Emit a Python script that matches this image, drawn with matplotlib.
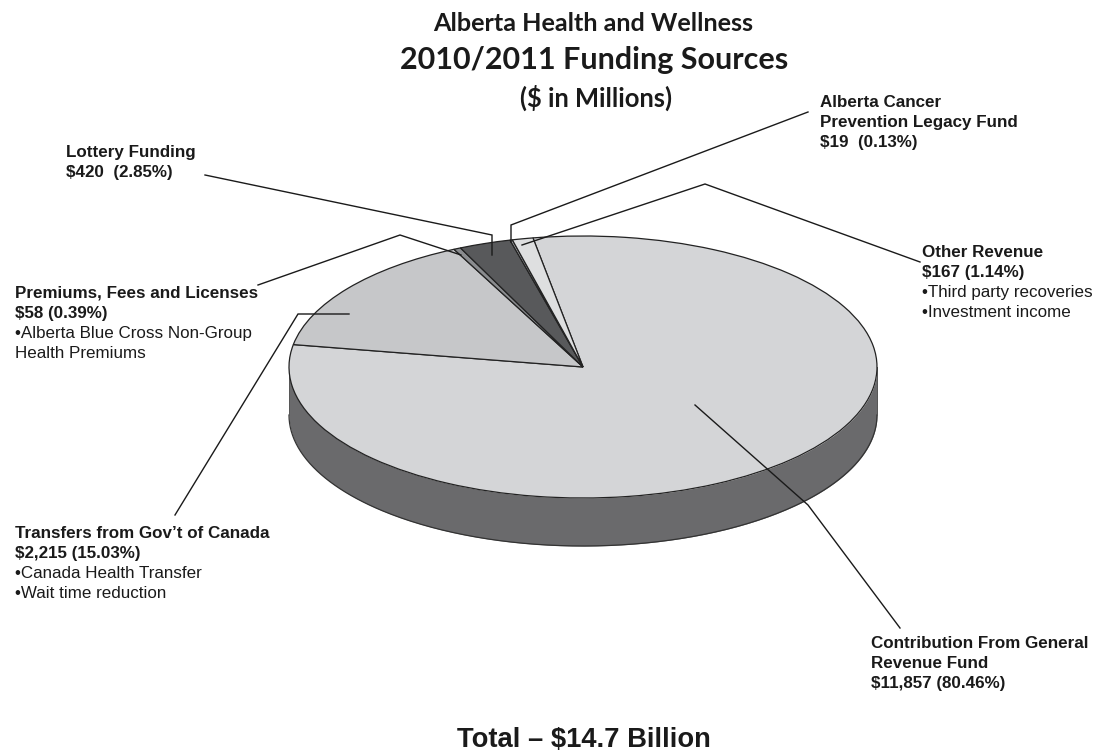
import numpy as np
import matplotlib
matplotlib.use("Agg")
import matplotlib.pyplot as plt

W, H = 1099, 751

# Funding sources, $ millions (clockwise from the general revenue slice)
sources = ["Contribution From General Revenue Fund", "Transfers from Gov't of Canada",
           "Premiums, Fees and Licenses", "Lottery Funding",
           "Alberta Cancer Prevention Legacy Fund", "Other Revenue"]
shares = [80.46, 15.03, 0.39, 2.85, 0.13, 1.14]
slice_colors = ["#d4d5d7", "#c6c7c9", "#8a8c8f", "#58595b", "#a9abae", "#dedfe0"]
start_angle = 99.8

titles = ["Alberta Health and Wellness", "2010/2011 Funding Sources", "($ in Millions)"]
total_label = "Total \u2013 $14.7 Billion"

# (text, bold) per line for each callout block; y is the first baseline
callouts = [
    (820, 107, [("Alberta Cancer", True), ("Prevention Legacy Fund", True), ("$19  (0.13%)", True)]),
    (66, 157, [("Lottery Funding", True), ("$420  (2.85%)", True)]),
    (922, 257, [("Other Revenue", True), ("$167 (1.14%)", True),
                ("\u2022Third party recoveries", False), ("\u2022Investment income", False)]),
    (15, 298, [("Premiums, Fees and Licenses", True), ("$58 (0.39%)", True),
               ("\u2022Alberta Blue Cross Non-Group", False), ("Health Premiums", False)]),
    (15, 538, [("Transfers from Gov\u2019t of Canada", True), ("$2,215 (15.03%)", True),
               ("\u2022Canada Health Transfer", False), ("\u2022Wait time reduction", False)]),
    (871, 648, [("Contribution From General", True), ("Revenue Fund", True), ("$11,857 (80.46%)", True)]),
]

leaders = [
    ([205, 492, 492], [175, 235, 255]),
    ([808, 511, 511], [112, 225, 242]),
    ([920, 705, 522], [262, 184, 245]),
    ([258, 400, 461], [285, 235, 255]),
    ([175, 298, 349], [515, 314, 314]),
    ([900, 808, 695], [628, 505, 405]),
]

fig = plt.figure(figsize=(W / 100, H / 100), dpi=100, facecolor="white")

# Pie axes: unit circle squashed into an ellipse to give the tilted disc
cx, cy, rx, ry, depth = 583, 367, 294, 131, 48
pie_ax = fig.add_axes([0, 0, 1, 1])
pie_ax.pie(shares, colors=slice_colors, startangle=start_angle, counterclock=False, radius=1,
           wedgeprops={"edgecolor": "#222222", "linewidth": 0.9, "zorder": 3})
pie_ax.set_aspect("auto")
pie_ax.set_xlim(-cx / rx, (W - cx) / rx)
pie_ax.set_ylim(-(H - cy) / ry, cy / ry)
pie_ax.axis("off")

# Rim below the visible half of the disc
t = np.linspace(np.pi, 2 * np.pi, 300)
xs, ys = np.cos(t), np.sin(t)
d = depth / ry
pie_ax.fill_between(xs, ys - d, ys, color="#6a6a6c", zorder=1, linewidth=0)
pie_ax.plot(xs, ys - d, color="#333333", lw=0.9, zorder=2)
pie_ax.plot([-1, -1], [0, -d], color="#555555", lw=0.7, zorder=2)
pie_ax.plot([1, 1], [0, -d], color="#555555", lw=0.7, zorder=2)

# Overlay in pixel coordinates for leader lines and text
ov = fig.add_axes([0, 0, 1, 1])
ov.set_xlim(0, W)
ov.set_ylim(H, 0)
ov.axis("off")
ov.patch.set_alpha(0)

for lx, ly in leaders:
    ov.plot(lx, ly, color="#1a1a1a", lw=1.0, solid_joinstyle="miter", zorder=5)

title_x = [593, 594, 596]
title_y = [31, 69, 107]
title_size = [18.2, 22, 18.4]
for text, x, y, size in zip(titles, title_x, title_y, title_size):
    ov.text(x, y, text, ha="center", va="baseline", family="Lato",
            weight="bold", fontsize=size, color="#1a1a1a")

for x, y, lines in callouts:
    for i, (text, bold) in enumerate(lines):
        ov.text(x, y + i * 20, text, ha="left", va="baseline", family="Liberation Sans",
                weight="bold" if bold else "normal", fontsize=12.25, color="#1a1a1a")

ov.text(583.5, 747, total_label, ha="center", va="baseline", family="Liberation Sans",
        weight="bold", fontsize=19.7, color="#1a1a1a")

fig.savefig("out.png", dpi=100, facecolor="white")
